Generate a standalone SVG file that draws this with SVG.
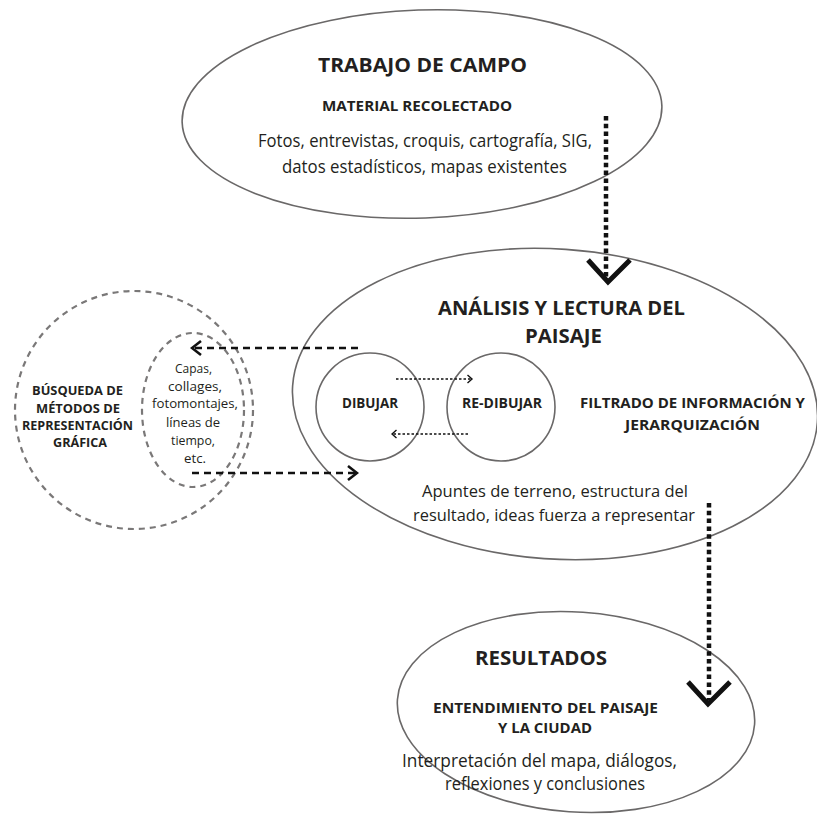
<svg xmlns="http://www.w3.org/2000/svg" width="817" height="817" viewBox="0 0 817 817">
<style>
.bg{fill:#ffffff}
.node{fill:none;stroke:#6a6868;stroke-width:1.6}
.dash{fill:none;stroke:#7a7878;stroke-width:2.2;stroke-dasharray:6 5}
.t{font-family:"Open Sans","Noto Sans","Liberation Sans",sans-serif;fill:#231f20;text-anchor:start}
.b{font-weight:bold}
.dl{fill:none;stroke:#111;stroke-width:2.6;stroke-dasharray:7 5}
.sl{fill:none;stroke:#111;stroke-width:1.3;stroke-dasharray:2.5 2}
.dot{fill:none;stroke:#111;stroke-width:4.5;stroke-dasharray:4.5 3.3}
.chev{fill:none;stroke:#111;stroke-width:5;stroke-linejoin:miter}
</style>
<defs>
<marker id="ah" viewBox="0 0 14 18" markerWidth="14" markerHeight="18" refX="12" refY="9" orient="auto" markerUnits="userSpaceOnUse">
<path d="M3,2 L12,9 L3,16" fill="none" stroke="#111" stroke-width="2.6"/>
</marker>
<marker id="ahs" viewBox="0 0 8 10" markerWidth="8" markerHeight="10" refX="6.5" refY="5" orient="auto" markerUnits="userSpaceOnUse">
<path d="M2,1 L6.5,5 L2,9" fill="none" stroke="#111" stroke-width="1.4"/>
</marker>
</defs>
<rect class="bg" x="0" y="0" width="817" height="817"/>

<g id="trabajo-de-campo">
<ellipse class="node" cx="422" cy="114" rx="240" ry="104" transform="rotate(-2 422 114)"/>
<text class="t b" x="318" y="72" font-size="20" textLength="209" lengthAdjust="spacingAndGlyphs">TRABAJO DE CAMPO</text>
<text class="t b" x="322" y="111" font-size="14" textLength="190" lengthAdjust="spacingAndGlyphs">MATERIAL RECOLECTADO</text>
<text class="t" x="258" y="147" font-size="18" textLength="334" lengthAdjust="spacingAndGlyphs">Fotos, entrevistas, croquis, cartografía, SIG,</text>
<text class="t" x="282" y="173" font-size="18" textLength="285" lengthAdjust="spacingAndGlyphs">datos estadísticos, mapas existentes</text>
</g>

<g id="analisis">
<ellipse class="node" cx="555" cy="404" rx="263" ry="155" transform="rotate(4 555 404)"/>
<text class="t b" x="438" y="315" font-size="20" textLength="247" lengthAdjust="spacingAndGlyphs">ANÁLISIS Y LECTURA DEL</text>
<text class="t b" x="525" y="343" font-size="20" textLength="77" lengthAdjust="spacingAndGlyphs">PAISAJE</text>
<text class="t b" x="580" y="408" font-size="15" textLength="225" lengthAdjust="spacingAndGlyphs">FILTRADO DE INFORMACIÓN Y</text>
<text class="t b" x="625" y="430" font-size="15" textLength="135" lengthAdjust="spacingAndGlyphs">JERARQUIZACIÓN</text>
<text class="t" x="422" y="497" font-size="17" textLength="266" lengthAdjust="spacingAndGlyphs">Apuntes de terreno, estructura del</text>
<text class="t" x="413" y="521" font-size="17" textLength="282" lengthAdjust="spacingAndGlyphs">resultado, ideas fuerza a representar</text>
</g>

<g id="dibujar">
<circle class="node" cx="370" cy="407" r="54"/>
<text class="t b" x="342" y="408" font-size="13.5" textLength="56" lengthAdjust="spacingAndGlyphs">DIBUJAR</text>
</g>

<g id="re-dibujar">
<circle class="node" cx="501" cy="407" r="54"/>
<text class="t b" x="462" y="408" font-size="13.5" textLength="80" lengthAdjust="spacingAndGlyphs">RE-DIBUJAR</text>
</g>

<g id="busqueda">
<circle class="dash" cx="134" cy="410" r="119"/>
<text class="t b" x="32" y="395" font-size="13" textLength="91" lengthAdjust="spacingAndGlyphs">BÚSQUEDA DE</text>
<text class="t b" x="36" y="413" font-size="13" textLength="84" lengthAdjust="spacingAndGlyphs">MÉTODOS DE</text>
<text class="t b" x="22" y="430" font-size="13" textLength="111" lengthAdjust="spacingAndGlyphs">REPRESENTACIÓN</text>
<text class="t b" x="53" y="447" font-size="13" textLength="54" lengthAdjust="spacingAndGlyphs">GRÁFICA</text>
</g>

<g id="metodos">
<ellipse class="dash" cx="193" cy="410" rx="51" ry="77"/>
<text class="t" x="175" y="373" font-size="13" textLength="37" lengthAdjust="spacingAndGlyphs">Capas,</text>
<text class="t" x="168" y="391" font-size="13" textLength="54" lengthAdjust="spacingAndGlyphs">collages,</text>
<text class="t" x="152" y="408" font-size="13" textLength="86" lengthAdjust="spacingAndGlyphs">fotomontajes,</text>
<text class="t" x="166" y="427" font-size="13" textLength="54" lengthAdjust="spacingAndGlyphs">líneas de</text>
<text class="t" x="171" y="445" font-size="13" textLength="44" lengthAdjust="spacingAndGlyphs">tiempo,</text>
<text class="t" x="184" y="463" font-size="13" textLength="22" lengthAdjust="spacingAndGlyphs">etc.</text>
</g>

<g id="resultados">
<ellipse class="node" cx="576" cy="712" rx="179" ry="100" transform="rotate(4 576 712)"/>
<text class="t b" x="475" y="665" font-size="20" textLength="132" lengthAdjust="spacingAndGlyphs">RESULTADOS</text>
<text class="t b" x="433" y="713" font-size="15" textLength="225" lengthAdjust="spacingAndGlyphs">ENTENDIMIENTO DEL PAISAJE</text>
<text class="t b" x="498" y="733" font-size="15" textLength="94" lengthAdjust="spacingAndGlyphs">Y LA CIUDAD</text>
<text class="t" x="402" y="767" font-size="18" textLength="275" lengthAdjust="spacingAndGlyphs">Interpretación del mapa, diálogos,</text>
<text class="t" x="445" y="790" font-size="18" textLength="200" lengthAdjust="spacingAndGlyphs">reflexiones y conclusiones</text>
</g>

<g id="connectors">
<line class="dot" x1="606" y1="116" x2="606" y2="278"/>
<polyline class="chev" points="588,260 608,282 630,260"/>
<line class="dot" x1="709" y1="503" x2="709" y2="700"/>
<polyline class="chev" points="688,682 708,704 730,682"/>
<line class="dl" x1="358" y1="348" x2="192" y2="348" marker-end="url(#ah)"/>
<line class="dl" x1="192" y1="473" x2="357" y2="473" marker-end="url(#ah)"/>
<line class="sl" x1="396" y1="379" x2="472" y2="379" marker-end="url(#ahs)"/>
<line class="sl" x1="468" y1="434" x2="392" y2="434" marker-end="url(#ahs)"/>
</g>
</svg>
